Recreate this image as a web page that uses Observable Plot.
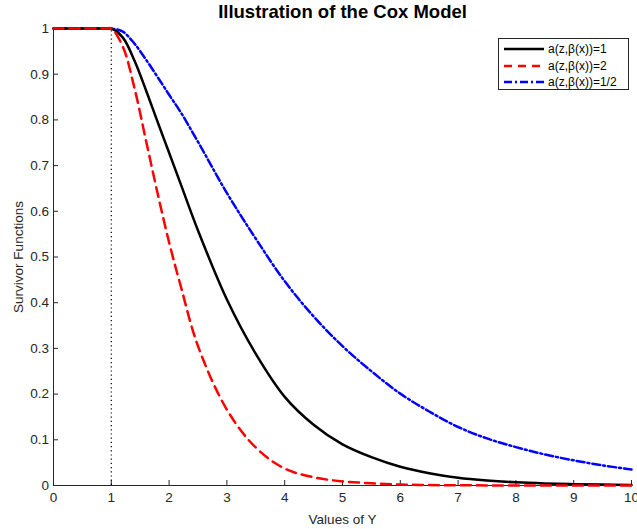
<!DOCTYPE html>
<html>
<head>
<meta charset="utf-8">
<script src="https://cdn.jsdelivr.net/npm/d3@7"></script>
<script src="https://cdn.jsdelivr.net/npm/@observablehq/plot@0.6"></script>
<style>
  body { margin: 0; background: #fff; }
  #wrap { position: relative; width: 637px; height: 529px; }
  #legend { position: absolute; left: 498px; top: 38px; width: 129px; height: 50px;
    border: 1px solid #262626; background: #fff; font: 12px "Liberation Sans", Arial, sans-serif; color: #000; }
  #legend .row { position: absolute; left: 0; height: 14px; display: flex; align-items: center; white-space: nowrap; }
  #legend svg { margin-left: 5px; margin-right: 4px; }
</style>
</head>
<body>
<div id="wrap"></div>
<script>
const title = "Illustration of the Cox Model";
const xLabel = "Values of Y";
const yLabel = "Survivor Functions";
const xTicks = [0,1,2,3,4,5,6,7,8,9,10];
const yTicks = [0,0.1,0.2,0.3,0.4,0.5,0.6,0.7,0.8,0.9,1];
const seriesNames = ["a(z,\u03B2(x))=1", "a(z,\u03B2(x))=2", "a(z,\u03B2(x))=1/2"];

// x positions where the curves were read
const gridX = [0, 0.5, 0.9, 1, 1.2, 1.4, 1.6, 1.8, 2.0, 2.2, 2.5, 3.0, 3.5, 4.0, 4.5, 5.0, 5.5, 6.0, 6.5, 7.0, 7.5, 8.0, 8.5, 9.0, 9.5, 10.0];
// a = 1 (black solid)
const blackY = [1, 1, 1, 1, 0.98, 0.93, 0.865, 0.796, 0.728, 0.66, 0.558, 0.407, 0.288, 0.194, 0.133, 0.09, 0.062, 0.041, 0.027, 0.017, 0.011, 0.007, 0.0045, 0.003, 0.002, 0.0012];
// a = 2 (red dashed)
const redY = [1, 1, 1, 1, 0.96, 0.87, 0.755, 0.64, 0.532, 0.437, 0.305, 0.166, 0.083, 0.037, 0.018, 0.009, 0.005, 0.002, 0.001, 0.0005, 0.0002, 0.0001, 0, 0, 0, 0];
// a = 1/2 (blue dash-dot)
const blueY = [1, 1, 1, 1, 0.993, 0.967, 0.932, 0.894, 0.855, 0.817, 0.752, 0.64, 0.54, 0.447, 0.37, 0.305, 0.25, 0.201, 0.162, 0.128, 0.103, 0.084, 0.068, 0.055, 0.044, 0.035];

const toRows = ys => gridX.map((x, i) => ({x, y: ys[i]}));
const black = toRows(blackY);
const red = toRows(redY);
const blue = toRows(blueY);

const axisColor = "#262626";
const font = "Liberation Sans, Arial, sans-serif";

const chart = Plot.plot({
  width: 637,
  height: 529,
  marginTop: 28,
  marginBottom: 44,
  marginLeft: 53,
  marginRight: 6,
  style: {fontFamily: font, fontSize: "13.5px", color: axisColor, background: "#fff", overflow: "visible"},
  x: {domain: [0, 10]},
  y: {domain: [0, 1]},
  marks: [
    Plot.axisX({ticks: xTicks, tickSize: -5, tickPadding: 12, fontSize: 13.5, label: xLabel, labelAnchor: "center", labelArrow: "none", labelOffset: 38, tickFormat: d => String(d)}),
    Plot.axisY({ticks: yTicks, tickSize: -5, tickPadding: 9.5, fontSize: 13.5, label: yLabel, labelAnchor: "center", labelArrow: "none", labelOffset: 40, tickFormat: d => String(+d.toFixed(1))}),
    Plot.ruleY([0], {stroke: axisColor, strokeWidth: 1}),
    Plot.ruleX([0], {stroke: axisColor, strokeWidth: 1}),
    Plot.ruleX([1], {y1: 0, y2: 1, stroke: "#000", strokeWidth: 1.2, strokeDasharray: "1.2,3"}),
    Plot.line(blue, {x: "x", y: "y", stroke: "#0000ff", strokeWidth: 2.5, strokeDasharray: "8,3,2,3", curve: "catmull-rom"}),
    Plot.line(black, {x: "x", y: "y", stroke: "#000", strokeWidth: 2.5, curve: "catmull-rom"}),
    Plot.line(red, {x: "x", y: "y", stroke: "#ff0000", strokeWidth: 2.5, strokeDasharray: "10,6", curve: "catmull-rom"}),
    Plot.text([title], {frameAnchor: "top", dy: -11, lineAnchor: "bottom", fontWeight: "bold", fontSize: 18.5, fill: "#000", text: d => d})
  ]
});
document.getElementById("wrap").appendChild(chart);

// legend
const leg = document.createElement("div");
leg.id = "legend";
const styles = [
  {stroke: "#000", dash: null},
  {stroke: "#ff0000", dash: "8,6"},
  {stroke: "#0000ff", dash: "8,3,2,3"}
];
seriesNames.forEach((name, i) => {
  const row = document.createElement("div");
  row.className = "row";
  row.style.top = (3 + i * 16.5) + "px";
  row.innerHTML = `<svg width="40" height="6"><line x1="0" y1="3" x2="40" y2="3" stroke="${styles[i].stroke}" stroke-width="2.5" ${styles[i].dash ? `stroke-dasharray="${styles[i].dash}"` : ""}/></svg><span>${name}</span>`;
  leg.appendChild(row);
});
document.getElementById("wrap").appendChild(leg);
</script>
</body>
</html>
